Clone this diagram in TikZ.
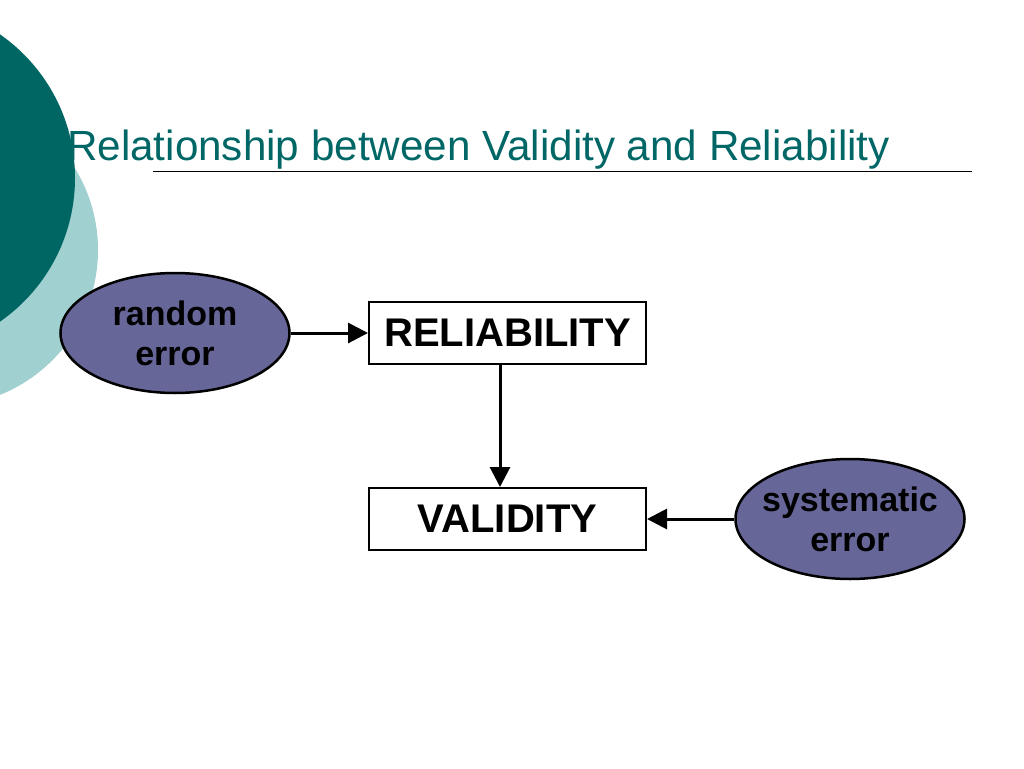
\documentclass[tikz,border=0pt]{standalone}
\usepackage{fontspec}
\setmainfont{Liberation Sans}
\usetikzlibrary{shapes.geometric,arrows.meta}
\definecolor{darkteal}{RGB}{0,102,99}
\definecolor{lightteal}{RGB}{160,208,208}
\definecolor{titleteal}{RGB}{0,102,102}
\definecolor{ellfill}{RGB}{102,102,153}
\tikzset{
  errell/.style={ellipse, draw=black, line width=2.5pt, fill=ellfill, minimum width=229pt, minimum height=120pt, inner xsep=-14pt, inner ysep=0pt, align=center, font=\fontsize{34}{40}\selectfont\bfseries},
  concept/.style={rectangle, draw=black, line width=2pt, fill=white, minimum width=277pt, minimum height=62pt, inner sep=0pt, font=\fontsize{40}{46}\selectfont\bfseries},
  arr/.style={line width=3pt, -{Triangle[length=20pt,width=20pt]}}
}
\begin{document}
\begin{tikzpicture}[x=1pt,y=-1pt]
\useasboundingbox (0,0) rectangle (1024,768);
\begin{scope}
\clip (0,0) rectangle (1024,768);
\fill[lightteal] (-58,250) circle (156);
\fill[darkteal] (-100,178) circle (175);
\end{scope}
\node[anchor=base west, text=titleteal, inner sep=0pt, font=\fontsize{42.2}{50}\selectfont] (title) at (67,160) {Relationship between Validity and Reliability};
\coordinate (ulA) at (153,171);
\coordinate (ulB) at (972,171);
\draw[line width=1pt] (ulA) -- (ulB);
\node[errell] (re) at (175,333) {random\\error};
\node[concept] (rel) at (507.5,333) {RELIABILITY};
\node[concept] (val) at (507.5,519) {VALIDITY};
\node[errell] (sys) at (850,519) {systematic\\error};
\draw[arr] (re.east) -- (rel.west |- re.east);
\draw[arr] (rel.south -| 500,0) -- (val.north -| 500,0);
\draw[arr] (sys.west) -- (val.east |- sys.west);
\end{tikzpicture}
\end{document}
